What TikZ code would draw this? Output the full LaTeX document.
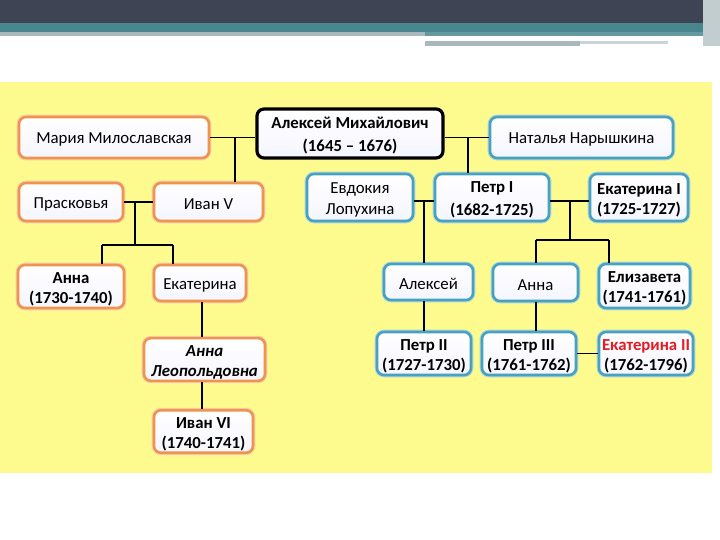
\documentclass[tikz,border=0pt]{standalone}
\usepackage{fontspec}
\setmainfont{Carlito}
\usetikzlibrary{calc}

\definecolor{slidedark}{RGB}{63,68,85}
\definecolor{slideteal}{RGB}{72,135,142}
\definecolor{slidegray}{RGB}{168,184,188}
\definecolor{bgyellow}{RGB}{253,250,142}
\definecolor{boxorange}{RGB}{238,148,78}
\definecolor{boxteal}{RGB}{72,162,190}
\definecolor{tsarred}{RGB}{228,28,36}

\tikzset{
	person/.style={rounded corners=7pt, line width=2.6pt, top color=white, bottom color=blue!4,
		align=center, inner sep=2pt, font=\fontsize{16.8}{21}\selectfont,
		execute at begin node={\rule{0pt}{15.5pt}}},
	twoline/.style={execute at begin node={\rule{0pt}{#1}}},
	orangebox/.style={person, draw=boxorange, preaction={draw=boxorange!45, line width=4.6pt}},
	tealbox/.style={person, draw=boxteal, preaction={draw=boxteal!45, line width=4.6pt}},
	kingbox/.style={person, draw=black, line width=3.2pt, font=\bfseries\fontsize{16.8}{23}\selectfont},
	boldtext/.style={font=\bfseries\fontsize{16.8}{20}\selectfont},
	link/.style={draw, black, line width=1.3pt}
}

\begin{document}
\begin{tikzpicture}[x=1pt,y=-1pt]
			\useasboundingbox (0,0) rectangle (720,540);
			\fill[white] (0,0) rectangle (720,540);
			
			% slide header
			\fill[slidedark] (0,0) rectangle (720,23);
			\fill[slideteal] (0,23) rectangle (705,32);
			\fill[slidegray] (0,32) rectangle (425,36);
			\fill[slideteal!85!white] (425,32) rectangle (705,36);
			\fill[slidegray] (425,41) rectangle (580,46);
			\fill[slidegray!60] (580,41) rectangle (668,44);
			\fill[slidegray!70] (703,0) rectangle (720,46);
			\fill[bgyellow] (0,82) rectangle (712,473);
			
			% first generation
			\node[orangebox, minimum width=190, minimum height=41] (maria) at (114,137.5) {Мария Милославская};
			\node[kingbox, twoline=39pt, minimum width=186, minimum height=49] (tsar) at (350,133.5) {Алексей Михайлович\\(1645 -- 1676)};
			\node[tealbox, minimum width=183, minimum height=41] (natalya) at (581.5,137.5) {Наталья Нарышкина};
			
			% second generation
			\node[orangebox, minimum width=104, minimum height=38] (praskovya) at (71,202) {Прасковья};
			\node[orangebox, minimum width=109, minimum height=38] (ivanV) at (208.5,202) {Иван V};
			\node[tealbox, twoline=37pt, minimum width=106, minimum height=47] (evdokiya) at (360,197.5) {Евдокия\\Лопухина};
			\node[tealbox, twoline=39pt, minimum width=114, minimum height=47, font=\bfseries\fontsize{16.8}{23}\selectfont] (petrI) at (492,197.5) {Петр I\\(1682-1725)};
			\node[tealbox, boldtext, twoline=36pt, minimum width=98, minimum height=47] (ekatI) at (639,197.5) {Екатерина I\\(1725-1727)};
			
			% third generation
			\node[orangebox, boldtext, twoline=36pt, minimum width=106, minimum height=43] (annaI) at (71,286.5) {Анна\\(1730-1740)};
			\node[orangebox, minimum width=92, minimum height=36] (ekaterina) at (200,283) {Екатерина};
			\node[tealbox, minimum width=89, minimum height=36] (aleksey) at (428.5,282) {Алексей};
			\node[tealbox, minimum width=85, minimum height=37] (annaP) at (535.5,282.5) {Анна};
			\node[tealbox, boldtext, twoline=36pt, minimum width=91, minimum height=44] (elizaveta) at (644.5,286) {Елизавета\\(1741-1761)};
			
			% fourth generation
			\node[orangebox, twoline=36pt, minimum width=121, minimum height=41, font=\bfseries\itshape\fontsize{16.8}{20}\selectfont] (annaL) at (204.5,359.5) {Анна\\Леопольдовна};
			\node[tealbox, boldtext, twoline=36pt, minimum width=94, minimum height=43] (petrII) at (424,353.5) {Петр II\\(1727-1730)};
			\node[tealbox, boldtext, twoline=36pt, minimum width=94, minimum height=43] (petrIII) at (529,353.5) {Петр III\\(1761-1762)};
			\node[tealbox, boldtext, twoline=36pt, minimum width=94, minimum height=43] (ekatII) at (646,353.5) {\textcolor{tsarred}{Екатерина II}\\(1762-1796)};
			\node[orangebox, boldtext, twoline=36pt, minimum width=99, minimum height=39] (ivanVI) at (203.5,431.5) {Иван VI\\(1740-1741)};
			
			% marriages and descent
			\coordinate (mj) at (235,137.5);
			\coordinate (nj) at (468,137.5);
			\draw[link] (maria.east) -- (maria.east -| tsar.west);
			\draw[link] (natalya.west) -- (natalya.west -| tsar.east);
			\draw[link] (mj) -- (mj |- ivanV.north);
			\draw[link] (nj) -- (nj |- petrI.north);
			
			{
				\coordinate (pj) at (135,202);
				\coordinate (pl) at (102,245);
				\coordinate (pr) at (173,245);
				\draw[link] (praskovya.east) -- (ivanV.west);
				\draw[link] (pj) -- (pj |- pl);
				\draw[link] (pl) -- (pr);
				\draw[link] (pl) -- (pl |- annaI.north);
				\draw[link] (pr) -- (pr |- ekaterina.north);
				\draw[link] (ekaterina.south -| 202,0) -- (annaL.north -| 202,0);
				\draw[link] (annaL.south -| 202,0) -- (ivanVI.north -| 202,0);
			}
			
			{
				\coordinate (ej) at (424,201);
				\draw[link] (evdokiya.east |- ej) -- (petrI.west |- ej);
				\draw[link] (ej) -- (ej |- aleksey.north);
				\draw[link] (aleksey.south -| ej) -- (petrII.north -| ej);
			}
			
			{
				\coordinate (kj) at (570,201);
				\coordinate (kl) at (536,240);
				\coordinate (kr) at (609,240);
				\draw[link] (petrI.east |- kj) -- (ekatI.west |- kj);
				\draw[link] (kj) -- (kj |- kl);
				\draw[link] (kl) -- (kr);
				\draw[link] (kl) -- (kl |- annaP.north);
				\draw[link] (kr) -- (kr |- elizaveta.north);
				\draw[link] (annaP.south -| kl) -- (petrIII.north -| kl);
				\draw[link] (petrIII.east) -- (ekatII.west);
			}
		\end{tikzpicture}
\end{document}
